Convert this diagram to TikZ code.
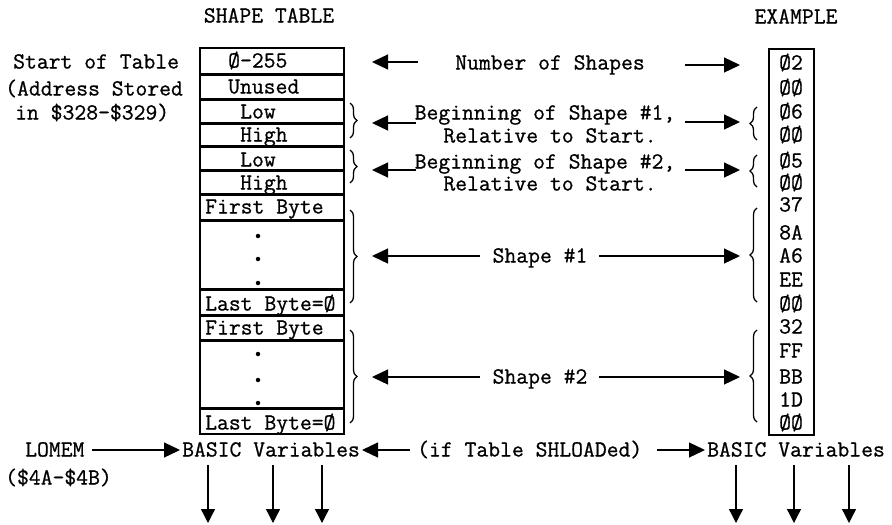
\documentclass[tikz,border=0pt]{standalone}
\usepackage{fontspec}
\newfontfamily\typewriter{Latin Modern Mono}[FakeBold=0.8]
\usetikzlibrary{arrows.meta,decorations.pathreplacing}
\begin{document}
\begin{tikzpicture}[x=1pt,y=-1pt,
  lbl/.style={inner sep=0pt, font=\typewriter\fontsize{23}{23}\selectfont, text height=13pt, text depth=0pt},
  lblw/.style={lbl, anchor=west},
  cell/.style={draw, line width=1.3pt},
  arr/.style={line width=1.3pt, -{Triangle[length=16pt,width=15pt]}},
  brc/.style={decorate, decoration={brace, amplitude=7pt}, line width=1.3pt},
  dotmark/.style={circle, fill, inner sep=0pt, minimum size=4.5pt}]
\useasboundingbox (0,0) rectangle (892,525);

% headings
\node[lbl] (ttab) at (269,16) {SHAPE TABLE};
\node[lbl] (tex)  at (796,17) {EXAMPLE};

% left-hand notes
\node[lblw] (start) at (13,62)  {Start of Table};
\node[lblw] (addr1) at (5,89)   {(Address Stored};
\node[lblw] (addr2) at (15,113) {in \$328-\$329)};

% shape table cells
\foreach \t/\b in {48/74, 75/99, 100/123, 124/146, 147/170, 171/194,
                   195/220, 221/289, 290/315, 316/340, 341/408, 409/434}
  \draw[cell] (200,\t) rectangle (344,\b);

\node[lblw] (c1)  at (228,61)  {Ø-255};
\node[lblw] (c2)  at (228,87)  {Unused};
\node[lblw] (c3)  at (240,112) {Low};
\node[lblw] (c4)  at (240,135) {High};
\node[lblw] (c5)  at (240,160) {Low};
\node[lblw] (c6)  at (240,183) {High};
\node[lblw] (c7)  at (205,207) {First Byte};
\node[lblw] (c9)  at (205,304) {Last Byte=Ø};
\node[lblw] (c10) at (205,328) {First Byte};
\node[lblw] (c12) at (205,423) {Last Byte=Ø};
\foreach \y [count=\i] in {236,259,283,354,380,403}
  \node[dotmark] (d\i) at (258,\y) {};

% braces beside the table
\draw[brc] (350,103) -- (350,138);
\draw[brc] (350,150) -- (350,183);
\draw[brc] (350,210) -- (350,303);
\draw[brc] (350,330) -- (350,423);

% middle descriptions
\node[lbl] (nshapes) at (550,63)  {Number of Shapes};
\node[lbl] (beg1)    at (545,113) {Beginning of Shape \#1,};
\node[lbl] (rel1)    at (550,136) {Relative to Start.};
\node[lbl] (beg2)    at (545,162) {Beginning of Shape \#2,};
\node[lbl] (rel2)    at (550,184) {Relative to Start.};
\node[lbl] (sh1)     at (540,256) {Shape \#1};
\node[lbl] (sh2)     at (540,377) {Shape \#2};

% example column
\draw[cell] (769,49) rectangle (814,435);
\foreach \v/\y [count=\i] in {Ø2/63, ØØ/88, Ø6/112, ØØ/135, Ø5/161, ØØ/183,
                              37/205, 8A/233, A6/256, EE/280, ØØ/304,
                              32/327, FF/351, BB/377, 1D/400, ØØ/423}
  \node[lblw] (e\i) at (779,\y) {\v};

% braces beside the example
\draw[brc] (757,140) -- (757,107);
\draw[brc] (757,187) -- (757,155);
\draw[brc] (757,302) -- (757,208);
\draw[brc] (757,422) -- (757,330);

% arrow end points
\coordinate (tL1) at (372,62);  \coordinate (sL1) at (418,62);
\coordinate (tL2) at (372,123); \coordinate (sL2) at (416,123);
\coordinate (tL3) at (372,170); \coordinate (sL3) at (416,170);
\coordinate (tL4) at (372,256); \coordinate (sL4) at (480,256);
\coordinate (tL5) at (372,377); \coordinate (sL5) at (480,377);
\coordinate (sR1) at (685,65);  \coordinate (tR1) at (740,65);
\coordinate (sR2) at (685,122); \coordinate (tR2) at (740,122);
\coordinate (sR3) at (685,170); \coordinate (tR3) at (740,170);
\coordinate (sR4) at (599,256); \coordinate (tR4) at (740,256);
\coordinate (sR5) at (599,377); \coordinate (tR5) at (740,377);

\foreach \i in {1,...,5} {
  \draw[arr] (sL\i) -- (tL\i);
  \draw[arr] (sR\i) -- (tR\i);
}

% bottom row
\node[lblw] (lomem) at (25,450) {LOMEM};
\node[lblw] (lomemaddr) at (5,478) {(\$4A-\$4B)};
\node[lblw] (varsL) at (182,450) {BASIC Variables};
\node[lblw] (shload) at (417,450) {(if Table SHLOADed)};
\node[lblw] (varsR) at (707,450) {BASIC Variables};

\coordinate (lmS) at (92,450);  \coordinate (lmT) at (180,450);
\coordinate (shLS) at (410,450); \coordinate (shLT) at (362,450);
\coordinate (shRS) at (657,450); \coordinate (shRT) at (705,450);
\draw[arr] (lmS) -- (lmT);
\draw[arr] (shLS) -- (shLT);
\draw[arr] (shRS) -- (shRT);

\foreach \x [count=\i] in {208,273,322,736,794,849} {
  \coordinate (dS\i) at (\x,465);
  \coordinate (dT\i) at (\x,523);
  \draw[arr, -{Triangle[length=14pt,width=14pt]}] (dS\i) -- (dT\i);
}
\end{tikzpicture}
\end{document}
